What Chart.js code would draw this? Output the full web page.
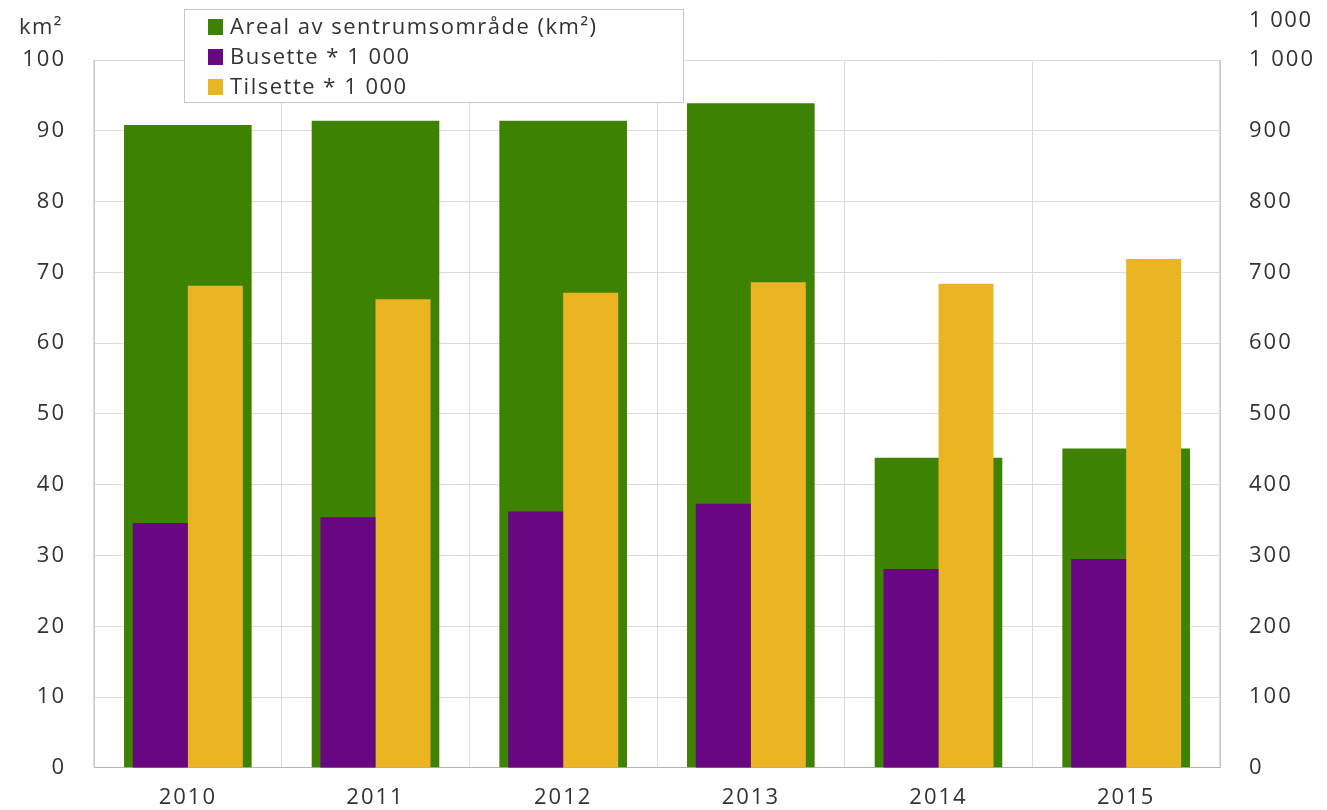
<!DOCTYPE html>
<html>
<head>
<meta charset="utf-8">
<script src="https://cdn.jsdelivr.net/npm/chart.js@4/dist/chart.umd.min.js"></script>
<style>
  html, body { margin: 0; padding: 0; background: #fff; }
  #wrap { width: 1327px; height: 810px; }
</style>
</head>
<body>
<div id="wrap"><canvas id="chart" width="1327" height="810"></canvas></div>
<script>
// data
const years = ['2010', '2011', '2012', '2013', '2014', '2015'];
const areal = [90.8, 91.4, 91.4, 93.9, 43.8, 45.1];      // km2, left axis
const busette = [346, 354, 362, 373, 281, 295];           // right axis
const tilsette = [681, 662, 671, 686, 684, 719];          // right axis
const seriesNames = ['Areal av sentrumsområde (km²)', 'Busette * 1 000', 'Tilsette * 1 000'];
const colors = ['#3e8201', '#690783', '#eab422'];

const FONT = "'Open Sans', sans-serif";
const FSIZE = 22;
const textColor = '#333';

// fixed axis widths so the plot sits where the original one does
function fixWidth(w) {
  return scale => { scale.width = w; };
}

// the original text is a bit wider than Open Sans, spread it a little
const spacing = {
  id: 'spacing',
  beforeDraw(chart) {
    chart.ctx.letterSpacing = '2px';
  }
};

const extras = {
  id: 'extras',
  afterDraw(chart) {
    const ctx = chart.ctx;
    ctx.save();
    ctx.letterSpacing = '1.5px';
    ctx.font = FSIZE + 'px ' + FONT;
    ctx.fillStyle = textColor;
    ctx.textBaseline = 'middle';
    // unit labels on top of the axes
    ctx.textAlign = 'right';
    ctx.fillText('km²', 63, 28);
    ctx.textAlign = 'left';
    ctx.fillText('1 000', 1249, 21);

    // legend box
    const x0 = 184, y0 = 9, w = 499, h = 93;
    ctx.fillStyle = '#fff';
    ctx.fillRect(x0, y0, w, h);
    ctx.strokeStyle = '#c8c8c8';
    ctx.lineWidth = 1;
    ctx.strokeRect(x0 + 0.5, y0 + 0.5, w, h);
    chart.data.datasets.forEach((ds, i) => {
      const cy = 27 + i * 30;
      ctx.fillStyle = ds.backgroundColor;
      ctx.fillRect(208, cy - 8, 15, 16);
      ctx.fillStyle = textColor;
      ctx.textAlign = 'left';
      ctx.fillText(ds.label, 230, cy + 1);
    });
    ctx.restore();
  }
};

new Chart(document.getElementById('chart'), {
  type: 'bar',
  data: {
    labels: years,
    datasets: [{
      label: seriesNames[0],
      data: areal,
      backgroundColor: colors[0],
      yAxisID: 'y',
      grouped: false,
      order: 2,
      categoryPercentage: 1,
      barPercentage: 0.68
    }, {
      label: seriesNames[1],
      data: busette,
      backgroundColor: colors[1],
      yAxisID: 'y2',
      order: 1,
      categoryPercentage: 0.586,
      barPercentage: 1
    }, {
      label: seriesNames[2],
      data: tilsette,
      backgroundColor: colors[2],
      yAxisID: 'y2',
      order: 1,
      categoryPercentage: 0.586,
      barPercentage: 1
    }]
  },
  options: {
    responsive: false,
    animation: false,
    layout: { padding: { top: 60, bottom: 0, left: 0, right: 0 } },
    plugins: {
      legend: { display: false },
      tooltip: { enabled: false }
    },
    scales: {
      x: {
        grid: { color: '#dcdcdc', offset: true, drawTicks: false },
        border: { color: '#b4b4b4' },
        ticks: { color: textColor, font: { family: FONT, size: FSIZE }, padding: 17 },
        afterFit: s => { s.height = 42; }
      },
      y: {
        position: 'left',
        min: 0, max: 100,
        ticks: { stepSize: 10, color: textColor, font: { family: FONT, size: FSIZE }, padding: 28 },
        grid: { color: '#dcdcdc', drawTicks: false },
        border: { color: '#c8c8c8' },
        afterFit: fixWidth(94)
      },
      y2: {
        position: 'right',
        min: 0, max: 1000,
        ticks: {
          stepSize: 100, color: textColor, font: { family: FONT, size: FSIZE }, padding: 29,
          callback: v => String(v).replace(/\B(?=(\d{3})+(?!\d))/g, ' ')
        },
        grid: { display: false, drawTicks: false },
        border: { color: '#c8c8c8' },
        afterFit: fixWidth(107)
      }
    }
  },
  plugins: [spacing, extras]
});
</script>
</body>
</html>
